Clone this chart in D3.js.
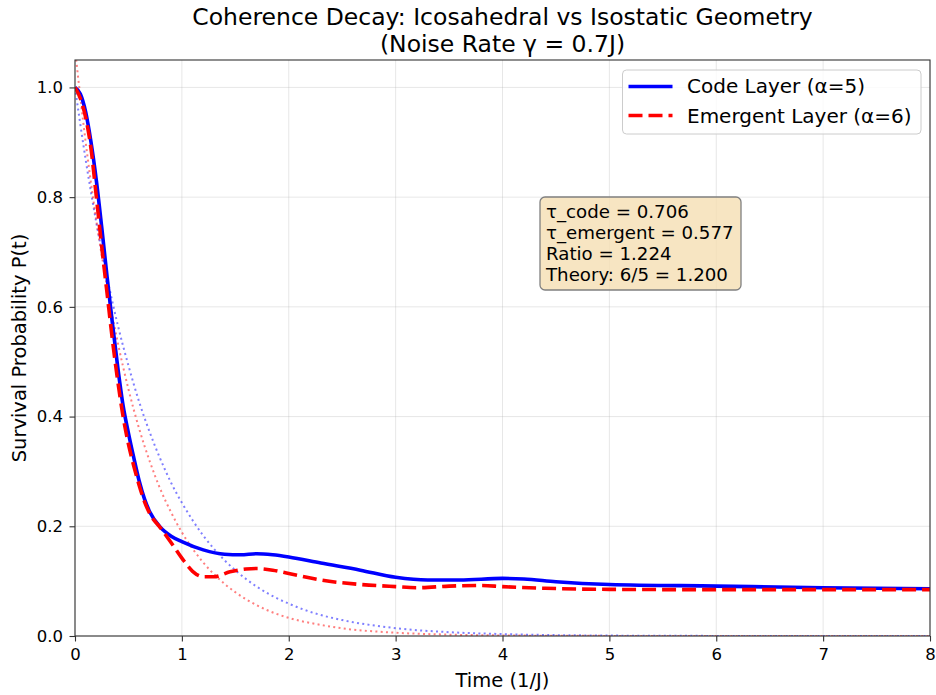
<!DOCTYPE html>
<html>
<head>
<meta charset="utf-8">
<script src="https://cdn.jsdelivr.net/npm/d3@7"></script>
<style>
  body { margin: 0; background: #fff; }
  svg { display: block; font-family: "DejaVu Sans", sans-serif; }
</style>
</head>
<body>
<svg id="chart" width="936" height="695"></svg>
<script>
// ---- data ----
const codeT   = [0,0.05,0.1,0.15,0.2,0.25,0.3,0.35,0.4,0.45,0.5,0.55,0.6,0.65,0.7,0.8,0.9,1.0,1.2,1.4,1.55,1.7,1.85,2.0,2.3,2.67,3.0,3.3,3.6,4.0,4.2,4.5,5.0,6.0,7.0,8.0];
const codeP   = [1.0,0.988,0.955,0.90,0.83,0.745,0.655,0.57,0.49,0.42,0.37,0.325,0.283,0.25,0.226,0.198,0.182,0.172,0.157,0.149,0.148,0.150,0.148,0.144,0.133,0.120,0.107,0.102,0.102,0.105,0.104,0.099,0.094,0.091,0.088,0.086];
const emergT  = [0,0.05,0.1,0.15,0.2,0.25,0.3,0.35,0.4,0.45,0.5,0.55,0.6,0.65,0.7,0.8,0.9,1.0,1.1,1.2,1.3,1.45,1.6,1.7,1.85,2.0,2.3,2.67,3.0,3.2,3.5,3.8,4.0,4.4,5.0,6.0,8.0];
const emergP  = [1.0,0.98,0.945,0.888,0.80,0.71,0.625,0.54,0.465,0.40,0.35,0.31,0.275,0.245,0.223,0.197,0.17,0.142,0.118,0.108,0.108,0.117,0.122,0.123,0.120,0.114,0.102,0.094,0.090,0.088,0.091,0.092,0.090,0.087,0.085,0.0845,0.0845];
const fitT    = [0,0.1,0.2,0.3,0.4,0.5,0.6,0.7,0.8,0.9,1.0,1.2,1.4,1.6,1.8,2.0,2.25,2.5,3.0,3.5,4.0,5.0,6.0,8.0];
const codeFit = [1.0,0.868,0.753,0.654,0.567,0.493,0.427,0.371,0.322,0.279,0.243,0.183,0.138,0.104,0.078,0.059,0.041,0.029,0.0143,0.007,0.0035,0.0008,0.0002,0.0];
const emergFit= [1.07,0.900,0.757,0.636,0.535,0.450,0.378,0.318,0.267,0.225,0.189,0.134,0.095,0.067,0.047,0.033,0.022,0.014,0.006,0.0025,0.001,0.0002,0.0,0.0];
const xTicks  = [0,1,2,3,4,5,6,7,8];
const yTicks  = [0.0,0.2,0.4,0.6,0.8,1.0];
const titleLines = ["Coherence Decay: Icosahedral vs Isostatic Geometry", "(Noise Rate γ = 0.7J)"];
const legendLabels = ["Code Layer (α=5)", "Emergent Layer (α=6)"];
const annotLines = ["τ_code = 0.706", "τ_emergent = 0.577", "Ratio = 1.224", "Theory: 6/5 = 1.200"];

// ---- layout ----
const svg = d3.select("#chart");
const L = 75, R = 930, T = 60, B = 636;
const x = d3.scaleLinear().domain([0, 8]).range([L, R]);
const y = d3.scaleLinear().domain([0, 1.05]).range([B, T]);

svg.append("defs").append("clipPath").attr("id", "clip")
  .append("rect").attr("x", L).attr("y", T).attr("width", R - L).attr("height", B - T);

// grid
const grid = svg.append("g");
grid.selectAll(".gx").data(xTicks).enter().append("line")
  .attr("x1", d => x(d)).attr("x2", d => x(d)).attr("y1", T).attr("y2", B)
  .attr("stroke", "#b0b0b0").attr("stroke-opacity", 0.3).attr("stroke-width", 1);
grid.selectAll(".gy").data(yTicks).enter().append("line")
  .attr("x1", L).attr("x2", R).attr("y1", d => y(d)).attr("y2", d => y(d))
  .attr("stroke", "#b0b0b0").attr("stroke-opacity", 0.3).attr("stroke-width", 1);

// lines
const plot = svg.append("g").attr("clip-path", "url(#clip)");
const mk = (ts) => d3.line().x((d, i) => x(ts[i])).y(d => y(d)).curve(d3.curveMonotoneX);

plot.append("path").datum(codeFit).attr("d", mk(fitT))
  .attr("fill", "none").attr("stroke", "blue").attr("stroke-opacity", 0.5)
  .attr("stroke-width", 2).attr("stroke-dasharray", "2,3.3");
plot.append("path").datum(emergFit).attr("d", mk(fitT))
  .attr("fill", "none").attr("stroke", "red").attr("stroke-opacity", 0.5)
  .attr("stroke-width", 2).attr("stroke-dasharray", "2,3.3");
plot.append("path").datum(codeP).attr("d", mk(codeT))
  .attr("fill", "none").attr("stroke", "blue").attr("stroke-width", 3.6)
  .attr("stroke-linejoin", "round");
plot.append("path").datum(emergP).attr("d", mk(emergT))
  .attr("fill", "none").attr("stroke", "red").attr("stroke-width", 3.6)
  .attr("stroke-dasharray", "14,6");

// axes
const xAxis = svg.append("g").attr("transform", `translate(0,${B})`)
  .call(d3.axisBottom(x).tickValues(xTicks).tickFormat(d3.format("d")).tickSizeOuter(0).tickSize(5.5).tickPadding(6.5));
const yAxis = svg.append("g").attr("transform", `translate(${L},0)`)
  .call(d3.axisLeft(y).tickValues(yTicks).tickFormat(d3.format(".1f")).tickSizeOuter(0).tickSize(5.5).tickPadding(6.5));
[xAxis, yAxis].forEach(a => {
  a.select(".domain").remove();
  a.selectAll("line").attr("stroke", "#333").attr("stroke-width", 1.1);
  a.selectAll("text").attr("font-size", 16.5).attr("fill", "#000").attr("font-family", "DejaVu Sans");
});

// spines
svg.append("rect").attr("x", L).attr("y", T).attr("width", R - L).attr("height", B - T)
  .attr("fill", "none").attr("stroke", "#333").attr("stroke-width", 1.1);

// axis labels
svg.append("text").attr("x", (L + R) / 2).attr("y", 687).attr("text-anchor", "middle")
  .attr("font-size", 19.5).text("Time (1/J)");
svg.append("text").attr("transform", `translate(26,${(T + B) / 2}) rotate(-90)`)
  .attr("text-anchor", "middle").attr("font-size", 19.5).text("Survival Probability P(t)");

// title
svg.selectAll(".title").data(titleLines).enter().append("text")
  .attr("x", (L + R) / 2).attr("y", (d, i) => 25 + i * 27).attr("text-anchor", "middle")
  .attr("font-size", 23.5).text(d => d);

// legend
const lg = svg.append("g");
lg.append("rect").attr("x", 622.5).attr("y", 70).attr("width", 298.5).attr("height", 64).attr("rx", 4)
  .attr("fill", "#fff").attr("fill-opacity", 0.8).attr("stroke", "#ccc").attr("stroke-width", 1);
lg.append("line").attr("x1", 628.5).attr("x2", 672.5).attr("y1", 86.5).attr("y2", 86.5)
  .attr("stroke", "blue").attr("stroke-width", 3.6);
lg.append("line").attr("x1", 628.5).attr("x2", 672.5).attr("y1", 115.5).attr("y2", 115.5)
  .attr("stroke", "red").attr("stroke-width", 3.6).attr("stroke-dasharray", "14,6");
lg.selectAll(".lt").data(legendLabels).enter().append("text")
  .attr("x", 687).attr("y", (d, i) => 93.3 + i * 29.4).attr("font-size", 20).text(d => d);

// annotation
const an = svg.append("g");
an.append("rect").attr("x", 540).attr("y", 197).attr("width", 201).attr("height", 93).attr("rx", 5)
  .attr("fill", "wheat").attr("fill-opacity", 0.8).attr("stroke", "#808080").attr("stroke-width", 1.3);
an.selectAll(".at").data(annotLines).enter().append("text")
  .attr("x", 546).attr("y", (d, i) => 217.5 + i * 21.1).attr("font-size", 18.2).text(d => d);
</script>
</body>
</html>
